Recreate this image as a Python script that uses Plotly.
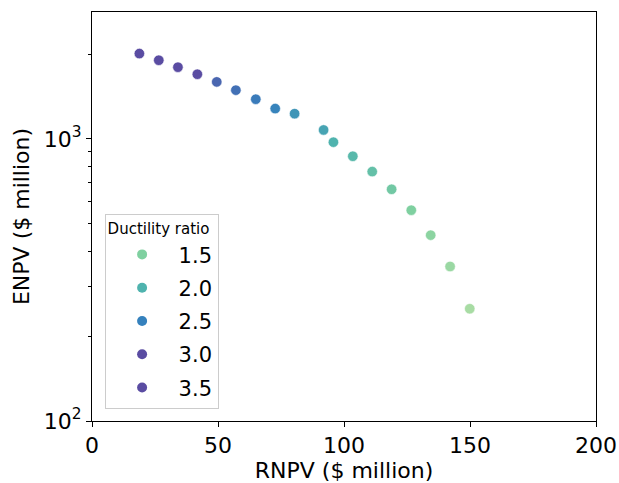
import plotly.graph_objects as go
from plotly.colors import sample_colorscale

# Data
rnpv = [18.8, 26.5, 34.1, 41.8, 49.5, 57.1, 65.0, 72.7, 80.4,
        91.9, 95.8, 103.5, 111.2, 118.9, 126.7, 134.4, 142.1, 149.9]
enpv = [2007, 1901, 1796, 1696, 1593, 1489, 1383, 1281, 1229,
        1076, 974, 868, 766, 663, 559, 456, 353, 250]
ductility = [3.4, 3.27, 3.13, 3.0, 2.85, 2.72, 2.58, 2.47, 2.3,
             2.15, 2.0, 1.9, 1.78, 1.64, 1.5, 1.38, 1.25, 1.12]
legend_values = [1.5, 2.0, 2.5, 3.0, 3.5]
legend_labels = ["1.5", "2.0", "2.5", "3.0", "3.5"]

cmin, cmax = 1.1, 3.5
colorscale = [
    [0.0, "#aadda4"],
    [0.1667, "#7fd0a0"],
    [0.375, "#4fb3ae"],
    [0.5833, "#3581bd"],
    [0.729, "#4a66b0"],
    [0.7917, "#5a4ca2"],
    [1.0, "#5a4ca2"],
]

FONT = "DejaVu Sans"
FS = 22

fig = go.Figure()
fig.add_trace(go.Scatter(
    x=rnpv, y=enpv, mode="markers", showlegend=False,
    marker=dict(size=10.5, color=ductility, colorscale=colorscale,
                cmin=cmin, cmax=cmax, line=dict(width=0.6, color="white")),
))

for v, lab in zip(legend_values, legend_labels):
    col = sample_colorscale(colorscale, [(v - cmin) / (cmax - cmin)])[0]
    fig.add_trace(go.Scatter(
        x=[None], y=[None], mode="markers", name=lab, legendgroup=lab,
        marker=dict(size=10, color=col),
    ))

fig.update_layout(
    width=619, height=483,
    margin=dict(l=92, r=23, t=12, b=62),
    plot_bgcolor="white", paper_bgcolor="white",
    font=dict(family=FONT, size=FS, color="black"),
    legend=dict(
        title=dict(text="Ductility ratio", font=dict(size=15, family=FONT)),
        x=0.025, y=0.03, xanchor="left", yanchor="bottom",
        bgcolor="rgba(255,255,255,0.8)", bordercolor="#cccccc", borderwidth=1,
        font=dict(size=21, family=FONT), itemwidth=63, tracegroupgap=3,
    ),
    xaxis=dict(
        range=[0, 200], tickvals=[0, 50, 100, 150, 200],
        ticks="outside", ticklen=5, tickwidth=1, tickcolor="black",
        showline=True, linecolor="black", linewidth=1, mirror=True,
        showgrid=False, zeroline=False, automargin=False,
        title=dict(text="RNPV ($ million)", font=dict(size=FS), standoff=2),
        tickfont=dict(size=FS),
    ),
    yaxis=dict(
        type="log", range=[2, 3.45],
        tickvals=[100, 1000], ticktext=["10<sup>2</sup>", "10<sup>3</sup>"],
        ticks="outside", ticklen=5, tickwidth=1, tickcolor="black",
        minor=dict(ticks="outside", ticklen=3, tickwidth=0.8, tickcolor="black",
                   tickvals=[200, 300, 400, 500, 600, 700, 800, 900, 2000], showgrid=False),
        showline=True, linecolor="black", linewidth=1, mirror=True,
        showgrid=False, zeroline=False, automargin=False,
        title=dict(text="ENPV ($ million)", font=dict(size=FS), standoff=8),
        tickfont=dict(size=FS),
    ),
)

fig.write_html("out.html")
